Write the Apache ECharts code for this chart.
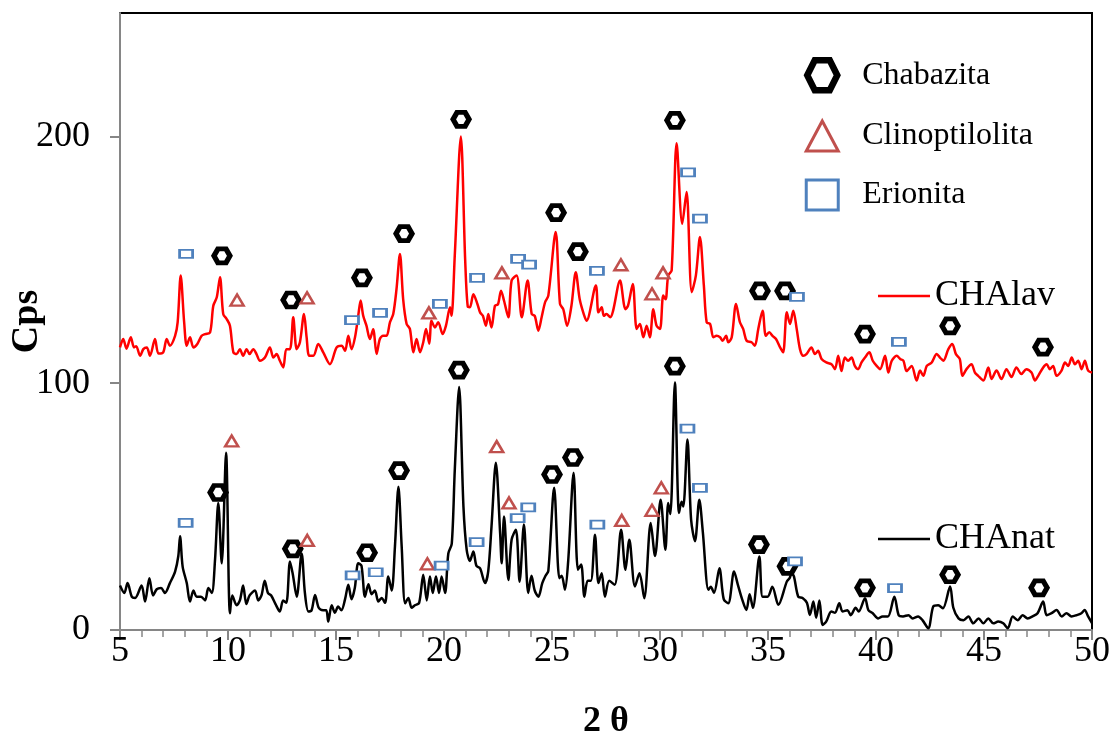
<!DOCTYPE html>
<html>
<head>
<meta charset="utf-8">
<title>DRX CHAnat / CHAlav</title>
<script src="https://cdn.jsdelivr.net/npm/echarts@6/dist/echarts.min.js"></script>
<style>
  html, body { margin: 0; padding: 0; background: #fff; }
  #chart { width: 1115px; height: 737px; }
</style>
</head>
<body>
<div id="chart"></div>
<script>
// Diffractogram of the natural zeolite (CHAnat), pairs of [2θ, cps]
const chaNat = [
  [5.0,18],[5.2,15],[5.35,19],[5.55,13.4],[5.7,13],[6.0,18],[6.16,11.5],[6.36,21],[6.53,14],[6.7,16.5],
  [6.9,17],[7.08,15],[7.31,19],[7.55,23.7],[7.7,30],[7.78,38],[7.9,25.7],[8.09,19],[8.24,11.5],[8.4,16],
  [8.55,13.5],[8.75,13.5],[8.94,12],[9.09,17],[9.25,15],[9.4,28.5],[9.55,51.5],[9.71,27],[9.91,71.8],[10.09,6.8],
  [10.2,14],[10.4,10],[10.55,12],[10.7,18],[10.85,10.5],[11.0,14],[11.25,16],[11.4,12],[11.55,14],[11.7,20],
  [11.85,15],[12.0,14],[12.2,10.5],[12.4,7.5],[12.55,12],[12.7,11],[12.87,27.8],[13.0,22.6],[13.18,13.5],[13.41,31],
  [13.56,15],[13.72,7.5],[13.87,8],[14.03,14.2],[14.2,9],[14.4,8],[14.55,8],[14.64,3.4],[14.8,10],[14.95,7],
  [15.1,9.5],[15.25,8],[15.42,12.5],[15.57,18.3],[15.72,12.5],[15.87,17],[16.03,27],[16.18,26],[16.34,13.5],[16.5,18.5],
  [16.65,14.5],[16.8,16],[16.96,11.5],[17.11,13],[17.27,11],[17.42,21.7],[17.58,16],[17.73,34],[17.89,58],[18.04,34],
  [18.2,10.8],[18.35,13],[18.5,9],[18.65,10],[18.85,11],[19.04,22.4],[19.2,12],[19.35,21.7],[19.48,15],[19.63,21.7],
  [19.77,15],[19.89,21.7],[20.05,15],[20.2,31],[20.36,35],[20.5,65],[20.7,98.5],[20.9,50],[21.05,32.5],[21.2,28],
  [21.36,31.8],[21.5,26],[21.67,25],[21.9,19],[22.05,24],[22.2,42],[22.4,67.8],[22.6,39],[22.67,27],[22.78,46],
  [22.98,20.3],[23.13,36.6],[23.33,40.6],[23.5,19.6],[23.7,42.7],[23.9,15],[24.05,22],[24.2,16],[24.37,13.5],[24.55,19],
  [24.7,22],[24.83,24],[25.1,57.6],[25.34,21],[25.45,22],[25.6,16.3],[25.75,28],[26.0,63.7],[26.2,24.4],[26.35,26.5],
  [26.5,13.5],[26.65,20],[26.8,20],[26.99,38.6],[27.15,19],[27.3,23],[27.45,13.5],[27.65,20],[27.9,18.3],[28.2,40.6],
  [28.4,24.4],[28.58,36.6],[28.84,17.6],[29.05,23],[29.27,12.9],[29.57,43.4],[29.77,30],[30.03,52.8],[30.25,32.5],[30.38,51.5],
  [30.48,47],[30.69,100.3],[30.88,47.4],[31.0,52],[31.08,50],[31.27,77.2],[31.44,44.7],[31.62,36],[31.82,52.8],[31.98,40],
  [32.24,16.3],[32.35,17.5],[32.5,15],[32.75,25],[32.95,12.5],[33.16,10.8],[33.43,23.7],[33.6,18.5],[33.8,12.5],[34.0,8.1],
  [34.15,14.5],[34.3,9],[34.6,29.8],[34.75,13.5],[34.98,13.5],[35.2,17.5],[35.48,10.2],[35.87,19.6],[36.0,21],[36.1,23],
  [36.2,21.7],[36.4,13.5],[36.6,13],[36.8,11],[36.94,6.1],[37.1,11.5],[37.23,5],[37.38,12],[37.53,2],[37.7,3.5],
  [37.93,7.5],[38.1,7],[38.3,10.8],[38.45,7.5],[38.68,8],[38.83,6],[39.06,9],[39.2,7.5],[39.49,12.9],[39.65,8],
  [39.85,6.8],[40.1,4.7],[40.3,5.5],[40.55,5.5],[40.85,13.5],[41.05,6],[41.25,5.5],[41.5,6],[41.7,4.7],[41.95,5.5],
  [42.15,4],[42.42,0.7],[42.65,9.5],[42.88,10],[43.1,8.8],[43.43,17.6],[43.58,9],[43.82,4.7],[44.05,4],[44.28,5.5],
  [44.5,2.7],[44.75,4.7],[44.97,2.7],[45.2,4.7],[45.43,2.7],[45.66,3.4],[45.89,2.7],[46.1,0.7],[46.33,5.5],[46.56,4],
  [46.79,6],[47.02,4.7],[47.25,5.5],[47.48,6.8],[47.74,11.5],[47.9,6],[48.13,6.8],[48.36,8.1],[48.6,5.5],[48.82,6.8],
  [49.05,5.5],[49.28,6],[49.51,6.8],[49.66,8.1],[49.82,5.5],[50.0,2.8]
];

// Diffractogram of the washed zeolite (CHAlav), pairs of [2θ, cps]
const chaLav = [
  [5.0,114.5],[5.15,117.9],[5.3,114],[5.5,118.6],[5.65,114.5],[5.75,115],[5.93,111.1],[6.08,113.8],[6.24,114.5],[6.39,111.1],
  [6.62,117.9],[6.78,112],[7.0,112.5],[7.16,117.9],[7.31,115.2],[7.55,119.2],[7.67,124.7],[7.81,143.6],[7.97,124.7],[8.09,115.2],
  [8.24,118.6],[8.4,114.5],[8.58,115.9],[8.78,119.2],[8.94,119.9],[9.17,120.6],[9.32,131.4],[9.48,134.8],[9.63,142.9],[9.78,128],
  [9.94,126],[10.09,123.3],[10.25,112.5],[10.4,111.8],[10.55,113.8],[10.7,111.1],[10.86,113.8],[11.0,111.8],[11.17,113.8],[11.32,111.8],
  [11.48,109.1],[11.71,110.4],[11.94,114.5],[12.1,110.4],[12.25,111.8],[12.4,109.1],[12.56,106.4],[12.7,113.8],[12.87,113.8],[13.02,126.7],
  [13.18,113.8],[13.33,116.6],[13.52,128],[13.64,118.6],[13.76,111.1],[13.95,111.1],[14.18,115.9],[14.41,112.5],[14.72,107.7],[15.03,114.5],
  [15.26,115.2],[15.42,113.1],[15.57,119.2],[15.72,113.8],[15.88,118.6],[16.03,127.3],[16.14,133.5],[16.26,127.3],[16.41,123.3],[16.57,117.9],
  [16.72,121.9],[16.88,111.8],[17.03,117.9],[17.19,119.2],[17.34,119.2],[17.5,124.7],[17.65,128],[17.8,138],[17.96,152.4],[18.11,134],
  [18.27,124],[18.42,122],[18.58,112.5],[18.73,117.9],[18.89,112.5],[19.04,116.6],[19.17,122],[19.32,116],[19.42,125.3],[19.58,122.6],
  [19.73,124.7],[19.94,119.9],[20.09,123.3],[20.28,130.8],[20.35,127.3],[20.5,152],[20.78,200],[20.98,150],[21.1,131],[21.2,130.8],
  [21.36,136],[21.55,132],[21.67,128.7],[21.8,127.3],[21.94,123.3],[22.05,128],[22.2,122.6],[22.36,131.4],[22.5,132],[22.64,137.5],
  [22.78,133.4],[22.98,126.7],[23.13,141.6],[23.36,143.6],[23.6,126.7],[23.87,141.6],[24.06,128],[24.2,127.3],[24.37,121.3],[24.52,126.7],
  [24.68,132.8],[24.83,135.5],[25.17,161.3],[25.37,132.1],[25.52,130],[25.7,123.3],[25.9,131.4],[26.1,145],[26.28,134.1],[26.47,128],
  [26.6,125.3],[27.03,139.6],[27.15,128.7],[27.3,130.8],[27.4,127.3],[27.52,128],[27.7,126.7],[27.83,129.4],[28.15,141.6],[28.4,130],
  [28.52,131.4],[28.74,140.2],[28.92,122],[29.07,124],[29.23,118.6],[29.38,123.3],[29.53,118.6],[29.69,130],[29.84,123.3],[30.0,122],
  [30.15,135.5],[30.26,134],[30.38,143.6],[30.54,145.7],[30.77,197.2],[31.03,164.6],[31.23,177.5],[31.47,136.9],[31.66,143.6],[31.85,159.2],
  [32.03,139.6],[32.16,124.7],[32.32,124],[32.47,118.6],[32.62,119.2],[32.78,118.6],[32.9,117.2],[33.06,119.2],[33.16,116.6],[33.32,118.6],
  [33.52,132.1],[33.7,124.7],[33.85,122],[34.01,117.2],[34.24,116.6],[34.39,115.2],[34.55,122],[34.75,129.4],[34.9,119.2],[35.06,120.6],
  [35.21,119.2],[35.37,117.9],[35.56,114.5],[35.7,112.5],[35.87,128.7],[36.02,124],[36.17,129.4],[36.33,121.9],[36.48,113.8],[36.63,111.1],
  [36.78,111.8],[37.01,114.5],[37.17,111.8],[37.32,113.1],[37.48,109.8],[37.7,108.4],[37.94,107.7],[38.1,105.7],[38.25,111.1],[38.4,104.9],
  [38.56,110.4],[38.71,109.1],[38.87,110.4],[39.02,107],[39.17,105.7],[39.33,108.4],[39.49,110.4],[39.69,112.5],[39.85,109.1],[40.03,107],
  [40.19,105.7],[40.42,111.1],[40.57,104.3],[40.73,109.1],[40.96,111.1],[41.12,109.8],[41.27,109.1],[41.42,104.9],[41.65,107],[41.88,101.1],
  [42.04,105.1],[42.19,103],[42.35,107],[42.58,108.4],[42.81,111.8],[42.96,110.4],[43.12,109.1],[43.35,113.8],[43.53,115.9],[43.7,111.8],
  [43.88,109.8],[44.0,103],[44.19,105.7],[44.42,107.7],[44.58,104.3],[44.73,103],[44.97,101.1],[45.2,106.4],[45.35,101.7],[45.58,105.1],
  [45.81,101.7],[46.04,105.7],[46.27,102.5],[46.5,106.4],[46.73,103.7],[46.96,105.7],[47.2,104.3],[47.36,101.1],[47.51,103],[47.74,106.4],
  [47.9,107.7],[48.05,105.7],[48.2,107],[48.36,103],[48.59,105.1],[48.75,108.4],[48.9,107],[49.06,110.4],[49.21,107.7],[49.36,109.1],
  [49.52,105.7],[49.67,109.1],[49.82,105.1],[50.0,104.3]
];

// Phase identification markers, [2θ, cps] where each symbol sits
const chabazitaMarks = [
  [9.72,151.6],[12.92,133.7],[16.2,142.7],[18.15,160.6],[20.79,206.9],[25.19,169.1],[26.2,153.3],
  [30.69,206.5],[34.63,137.4],[35.79,137.4],[39.49,119.9],[43.43,123.2],[47.73,114.6],
  [9.54,55.7],[13.0,32.9],[16.44,31.3],[17.92,64.6],[20.69,105.3],[25.0,63],[25.97,69.9],
  [30.69,106.9],[34.58,34.6],[35.9,25.8],[39.49,17.1],[43.43,22.4],[47.55,17.1]
];
const clinoptilolitaMarks = [
  [10.42,133.7],[13.66,134.6],[19.3,128.5],[22.68,144.7],[28.19,148],[29.63,136.2],[30.14,144.7],
  [10.17,76.6],[13.67,36.3],[19.23,26.8],[22.44,74.3],[23.01,51.5],[28.23,44.4],[29.63,48.5],[30.06,57.6]
];
const erionitaMarks = [
  [8.06,152.4],[15.74,125.6],[17.04,128.5],[19.81,132.1],[21.53,142.7],[23.43,150.4],[23.94,148],
  [27.08,145.5],[31.3,185.4],[31.85,166.7],[36.34,135],[41.06,116.7],
  [8.04,43.4],[15.77,22.1],[16.84,23.4],[19.89,26.1],[21.51,35.6],[23.41,45.3],[23.9,49.7],
  [27.1,42.7],[31.27,81.6],[31.85,57.6],[36.25,27.8],[40.88,17]
];

// Axis ticks
const yTickValues = [0, 100, 200];

const SERIF = "'Liberation Serif', 'Times New Roman', 'DejaVu Serif', serif";
const AXIS_GRAY = '#868686';
const RED = '#ff0000';
const CLINO_RED = '#c0504d';
const ERIO_BLUE = '#4f81bd';
const HEXAGON = 'path://M0,50 L25,0 L75,0 L100,50 L75,100 L25,100 Z';

const chart = echarts.init(document.getElementById('chart'), null, { renderer: 'canvas' });

chart.setOption({
  animation: false,
  backgroundColor: '#ffffff',
  textStyle: { fontFamily: SERIF, color: '#000' },
  grid: {
    left: 120, right: 23, top: 13, bottom: 107,
    containLabel: false,
    outerBoundsMode: 'none',
    show: true, borderColor: '#000', borderWidth: 2, backgroundColor: 'transparent'
  },
  legend: [
    {
      orient: 'vertical',
      left: 799, top: 52,
      itemWidth: 32, itemHeight: 30, itemGap: 26,
      textStyle: { fontFamily: SERIF, fontSize: 32, color: '#000', padding: [0, 0, 0, 19] },
      data: [
        { name: 'Chabazita', icon: HEXAGON,
          itemStyle: { color: 'rgba(0,0,0,0)', borderColor: '#000', borderWidth: 6.5, opacity: 1 } },
        { name: 'Clinoptilolita', icon: 'triangle',
          itemStyle: { color: 'rgba(0,0,0,0)', borderColor: CLINO_RED, borderWidth: 3, opacity: 1 } },
        { name: 'Erionita', icon: 'rect',
          itemStyle: { color: 'rgba(0,0,0,0)', borderColor: ERIO_BLUE, borderWidth: 3, opacity: 1 } }
      ]
    },
    {
      left: 873, top: 273,
      itemWidth: 52, itemHeight: 2.5,
      textStyle: { fontFamily: SERIF, fontSize: 36, color: '#000' },
      data: [{ name: 'CHAlav', icon: 'rect', itemStyle: { color: RED, borderWidth: 0 } }]
    },
    {
      left: 873, top: 516,
      itemWidth: 52, itemHeight: 2.5,
      textStyle: { fontFamily: SERIF, fontSize: 36, color: '#000' },
      data: [{ name: 'CHAnat', icon: 'rect', itemStyle: { color: '#000', borderWidth: 0 } }]
    }
  ],
  xAxis: {
    type: 'value',
    min: 5, max: 50, interval: 5,
    name: '2 θ',
    nameLocation: 'middle',
    nameGap: 74,
    nameMoveOverlap: false,
    nameTextStyle: { fontFamily: SERIF, fontSize: 36, fontWeight: 'bold', color: '#000' },
    axisLine: { show: true, onZero: false, lineStyle: { color: AXIS_GRAY, width: 2 } },
    axisTick: { show: true, length: 10, lineStyle: { color: AXIS_GRAY, width: 2 } },
    minorTick: { show: true, splitNumber: 5, length: 7, lineStyle: { color: AXIS_GRAY, width: 1.5 } },
    axisLabel: { fontFamily: SERIF, fontSize: 36, color: '#000', margin: 4 },
    splitLine: { show: false },
    minorSplitLine: { show: false }
  },
  yAxis: {
    type: 'value',
    min: 0, max: 250,
    name: 'Cps',
    nameLocation: 'middle',
    nameGap: 74,
    nameRotate: 90,
    nameMoveOverlap: false,
    nameTextStyle: { fontFamily: SERIF, fontSize: 38, fontWeight: 'bold', color: '#000' },
    axisLine: { show: true, onZero: false, lineStyle: { color: AXIS_GRAY, width: 2 } },
    axisTick: { show: true, length: 10, customValues: yTickValues, lineStyle: { color: AXIS_GRAY, width: 2 } },
    axisLabel: { fontFamily: SERIF, fontSize: 36, color: '#000', margin: 30, customValues: yTickValues },
    splitLine: { show: false }
  },
  series: [
    {
      name: 'CHAnat', type: 'line', data: chaNat,
      symbol: 'none', smooth: 0.3,
      lineStyle: { color: '#000', width: 2.5 },
      itemStyle: { color: '#000' },
      z: 2
    },
    {
      name: 'CHAlav', type: 'line', data: chaLav,
      symbol: 'none', smooth: 0.3,
      lineStyle: { color: RED, width: 2.5 },
      itemStyle: { color: RED },
      z: 2
    },
    {
      name: 'Chabazita', type: 'scatter', data: chabazitaMarks,
      symbol: HEXAGON, symbolSize: [16, 14],
      itemStyle: { color: '#fff', borderColor: '#000', borderWidth: 5, opacity: 1 },
      z: 5
    },
    {
      name: 'Clinoptilolita', type: 'scatter', data: clinoptilolitaMarks,
      symbol: 'triangle', symbolSize: [13, 11],
      itemStyle: { color: '#fff', borderColor: CLINO_RED, borderWidth: 2.5, opacity: 1 },
      z: 5
    },
    {
      name: 'Erionita', type: 'scatter', data: erionitaMarks,
      symbol: 'rect', symbolSize: [13, 8],
      itemStyle: { color: '#fff', borderColor: ERIO_BLUE, borderWidth: 2.2, opacity: 1 },
      z: 5
    }
  ]
});
</script>
</body>
</html>
